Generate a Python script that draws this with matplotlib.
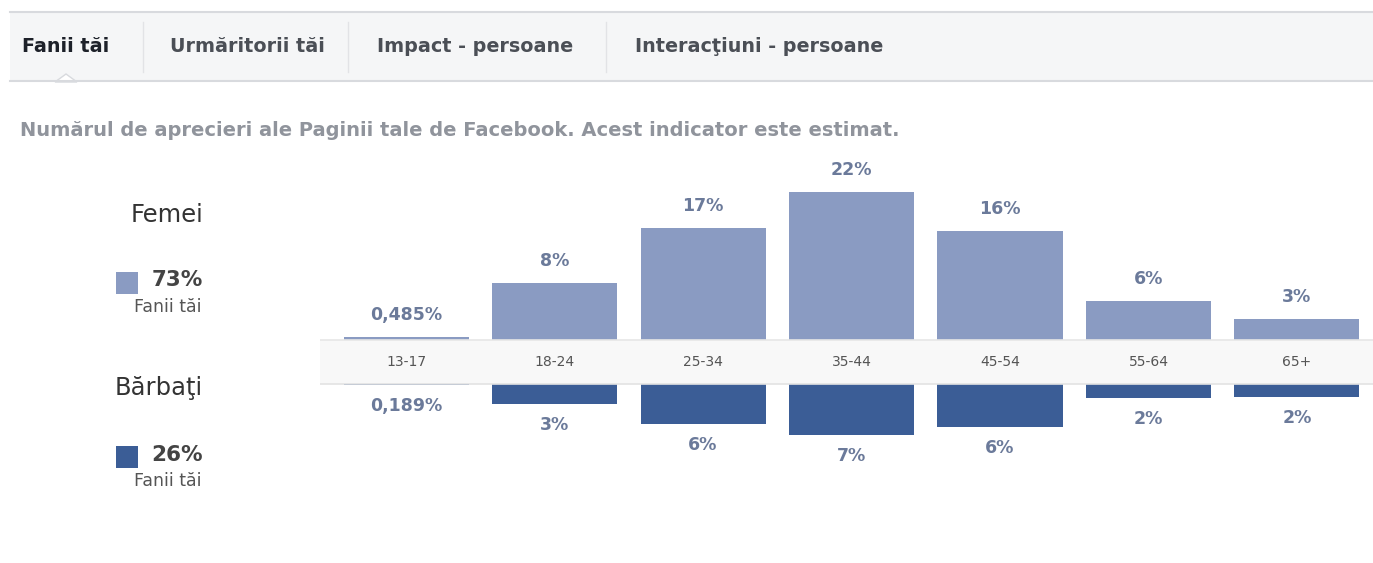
import numpy as np
import matplotlib.pyplot as plt
from matplotlib.patches import Rectangle, Polygon

plt.rcParams['font.family'] = ['DejaVu Sans']

# data
age_groups = ['13-17', '18-24', '25-34', '35-44', '45-54', '55-64', '65+']
women_pct = [0.485, 8.4, 16.6, 21.9, 16.1, 5.8, 3.1]
men_pct = [0.189, 3.0, 5.9, 7.6, 6.4, 2.1, 1.9]
women_labels = ['0,485%', '8%', '17%', '22%', '16%', '6%', '3%']
men_labels = ['0,189%', '3%', '6%', '7%', '6%', '2%', '2%']
tabs = ['Fanii tăi', 'Urmăritorii tăi', 'Impact - persoane', 'Interacţiuni - persoane']
tab_x = [22, 170, 377, 635]
women_total = '73%'
men_total = '26%'

W, H = 1373, 563
fig = plt.figure(figsize=(W / 100, H / 100), dpi=100)
fig.patch.set_facecolor('white')

# background axes in pixel units (y down) for header and legend
bg = fig.add_axes([0, 0, 1, 1])
bg.set_xlim(0, W)
bg.set_ylim(H, 0)
bg.axis('off')

# tab strip
bg.add_patch(Rectangle((10, 12), W - 10, 69, facecolor='#f5f6f7', edgecolor='none'))
bg.plot([10, W], [12, 12], color='#d8dade', lw=1.5)
bg.plot([10, W], [81, 81], color='#d8dade', lw=1.5)
bg.add_patch(Polygon([[55, 82], [66, 74], [77, 82]], closed=True,
                     facecolor='white', edgecolor='#d8dade', lw=1))
for sx in [143, 348, 606]:
    bg.plot([sx, sx], [22, 72], color='#e2e3e6', lw=1)
for i, (t, x) in enumerate(zip(tabs, tab_x)):
    bg.text(x, 47, t, fontsize=13.8, fontweight='bold', va='center', ha='left',
            color='#1d2129' if i == 0 else '#4b4f56')

bg.text(20, 130, 'Numărul de aprecieri ale Paginii tale de Facebook. Acest indicator este estimat.',
        fontsize=14.0, fontweight='bold', color='#90949c', va='center', ha='left')

# legend on the left
light, dark = '#8a9bc2', '#3b5d96'
bg.text(203, 215, 'Femei', fontsize=17.5, color='#333333', ha='right', va='center')
bg.add_patch(Rectangle((116, 272), 22, 22, facecolor=light, edgecolor='none'))
bg.text(203, 280, women_total, fontsize=15.5, fontweight='bold', color='#444444', ha='right', va='center')
bg.text(201, 307, 'Fanii tăi', fontsize=12.5, color='#555555', ha='right', va='center')
bg.text(203, 388, 'Bărbaţi', fontsize=17.5, color='#333333', ha='right', va='center')
bg.add_patch(Rectangle((116, 446), 22, 22, facecolor=dark, edgecolor='none'))
bg.text(203, 455, men_total, fontsize=15.5, fontweight='bold', color='#444444', ha='right', va='center')
bg.text(201, 481, 'Fanii tăi', fontsize=12.5, color='#555555', ha='right', va='center')

# chart axes: y in percent, women above 0, men below the label band
px_per_pct = 6.75
band_h = 44 / px_per_pct
ax_l, ax_r, ax_t, ax_b = 320, W, 150, 480
base_px = 340
ax = fig.add_axes([ax_l / W, (H - ax_b) / H, (ax_r - ax_l) / W, (ax_b - ax_t) / H])
ax.set_ylim(-(ax_b - base_px) / px_per_pct, (base_px - ax_t) / px_per_pct)
step = 148.5
x0 = 406
ax.set_xlim((ax_l - x0) / step, (ax_r - x0) / step)
ax.axis('off')

x = np.arange(len(age_groups))
bw = 125 / step
ax.bar(x, women_pct, width=bw, bottom=0, color=light, zorder=2)
ax.bar(x, [-m for m in men_pct], width=bw, bottom=-band_h, color=dark, zorder=2)

# label band
xl = ax.get_xlim()
ax.add_patch(Rectangle((xl[0], -band_h), xl[1] - xl[0], band_h,
                       facecolor='#f8f8f8', edgecolor='none', zorder=3))
ax.plot(xl, [0, 0], color='#e6e6e6', lw=1.2, zorder=4)
ax.plot(xl, [-band_h, -band_h], color='#e3e3e3', lw=1.2, zorder=4)

for i, g in enumerate(age_groups):
    ax.text(i, -band_h / 2, g, fontsize=10, color='#555555', ha='center', va='center', zorder=5)
    ax.annotate(women_labels[i], (i, women_pct[i]), xytext=(0, 22), textcoords='offset pixels',
                ha='center', va='center', fontsize=12.5, fontweight='bold', color='#6b7a9a')
    ax.annotate(men_labels[i], (i, -band_h - men_pct[i]), xytext=(0, -21), textcoords='offset pixels',
                ha='center', va='center', fontsize=12.5, fontweight='bold', color='#6b7a9a')

fig.savefig('out.png', dpi=100, facecolor='white')
